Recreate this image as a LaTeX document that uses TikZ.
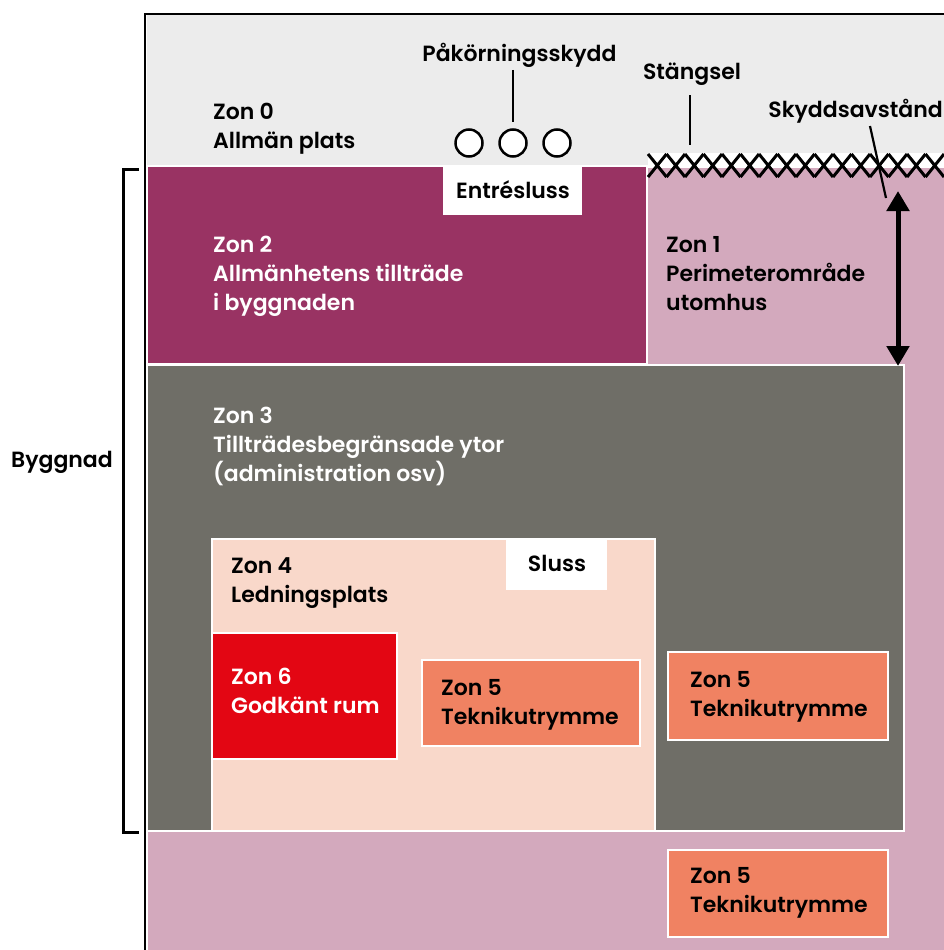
\documentclass[tikz,border=0pt]{standalone}
\usepackage{fontspec}
\setmainfont{Poppins}[UprightFont={* SemiBold}]
\usetikzlibrary{arrows.meta}
\definecolor{gzero}{HTML}{ECECEC}
\definecolor{pinkz}{HTML}{D3A9BD}
\definecolor{purpz}{HTML}{993363}
\definecolor{dgrey}{HTML}{6F6E67}
\definecolor{peach}{HTML}{F9D8CA}
\definecolor{redz}{HTML}{E30613}
\definecolor{oranz}{HTML}{F08262}
\newcommand{\zf}{\fontsize{22}{29}\selectfont}
\begin{document}
\begin{tikzpicture}[x=1pt,y=-1pt,
  zone/.style={draw=white,line width=2.5pt},
  txt/.style={font=\zf,inner sep=0pt,align=left,anchor=north west,execute at begin node=\strut},
  lab/.style={font=\zf,inner sep=0pt,anchor=base},
  conn/.style={draw=black,line width=2.2pt},
  post/.style={circle,draw=black,fill=white,line width=2.5pt,minimum size=27pt,inner sep=0pt},
  fence/.style={line width=3pt},
  dbl/.style={line width=5pt,{Triangle[width=22pt,length=20pt]}-{Triangle[width=22pt,length=20pt]}}]
\useasboundingbox (0,0) rectangle (944,950);
\clip (0,0) rectangle (944,950);
\fill[white] (0,0) rectangle (944,950);
% zones
\fill[gzero] (147,15) rectangle (944,166);
\path[zone,fill=pinkz] (147,167) rectangle (948,954);
\path[zone,fill=purpz] (147,166) rectangle (647,364);
\path[zone,fill=dgrey] (147,365) rectangle (904,831);
\path[zone,fill=peach] (212,539) rectangle (655,831);
\path[zone,fill=redz] (212,633) rectangle (397,759);
\path[zone,fill=oranz] (422,660) rectangle (640,746);
\path[zone,fill=oranz] (668,652) rectangle (888,740);
\path[zone,fill=oranz] (668,850) rectangle (888,937);
\fill[white] (443,167) rectangle (582,215);
\fill[white] (506,540) rectangle (607,590);
% fence
\fill[white] (648,153) rectangle (944,166);
\foreach \i in {0,...,15}{
  \draw[fence] (648+18.5*\i,154) -- ++(18.5,23) (648+18.5*\i,177) -- ++(18.5,-23);
}
% frame and bracket
\draw[line width=2.5pt] (145,951) -- (145,14) -- (946,14);
\draw[line width=3pt] (139,169) -- (123,169) -- (123,832) -- (139,832);
% posts
\node[post] (c1) at (469,143) {};
\node[post] (c2) at (513,143) {};
\node[post] (c3) at (557,143) {};
% labels
\node[lab] (pk) at (519.5,62) {Påkörningsskydd};
\node[lab] (st) at (692,80) {Stängsel};
\node[lab,anchor=base east] (sk) at (943,117) {Skyddsavstånd};
\node[lab] (by) at (62,467) {Byggnad};
\node[lab] (en) at (513,198) {Entrésluss};
\node[lab] (sl) at (557,571) {Sluss};
% zone texts
\node[txt] (z0) at (213,103) {Zon 0\\Allmän plats};
\node[txt,text=white] (z2) at (213,236) {Zon 2\\Allmänhetens tillträde\\i byggnaden};
\node[txt] (z1) at (666,236) {Zon 1\\Perimeterområde\\utomhus};
\node[txt,text=white] (z3) at (213,407) {Zon 3\\Tillträdesbegränsade ytor\\(administration osv)};
\node[txt] (z4) at (231,557) {Zon 4\\Ledningsplats};
\node[txt,text=white] (z6) at (231,668) {Zon 6\\Godkänt rum};
\node[txt] (z5a) at (441,679) {Zon 5\\Teknikutrymme};
\node[txt] (z5b) at (690,671) {Zon 5\\Teknikutrymme};
\node[txt] (z5c) at (690,867) {Zon 5\\Teknikutrymme};
% connectors
\coordinate (pkA) at (513,70);
\coordinate (pkB) at (513,122);
\draw[conn] (pkA) -- (pkB);
\coordinate (stA) at (690,95);
\coordinate (stB) at (690,145);
\draw[conn] (stA) -- (stB);
\coordinate (skA) at (870,126);
\coordinate (skB) at (886,198);
\draw[conn] (skA) -- (skB);
\coordinate (arT) at (898,191);
\coordinate (arB) at (898,366);
\draw[dbl] (arT) -- (arB);
\end{tikzpicture}
\end{document}
